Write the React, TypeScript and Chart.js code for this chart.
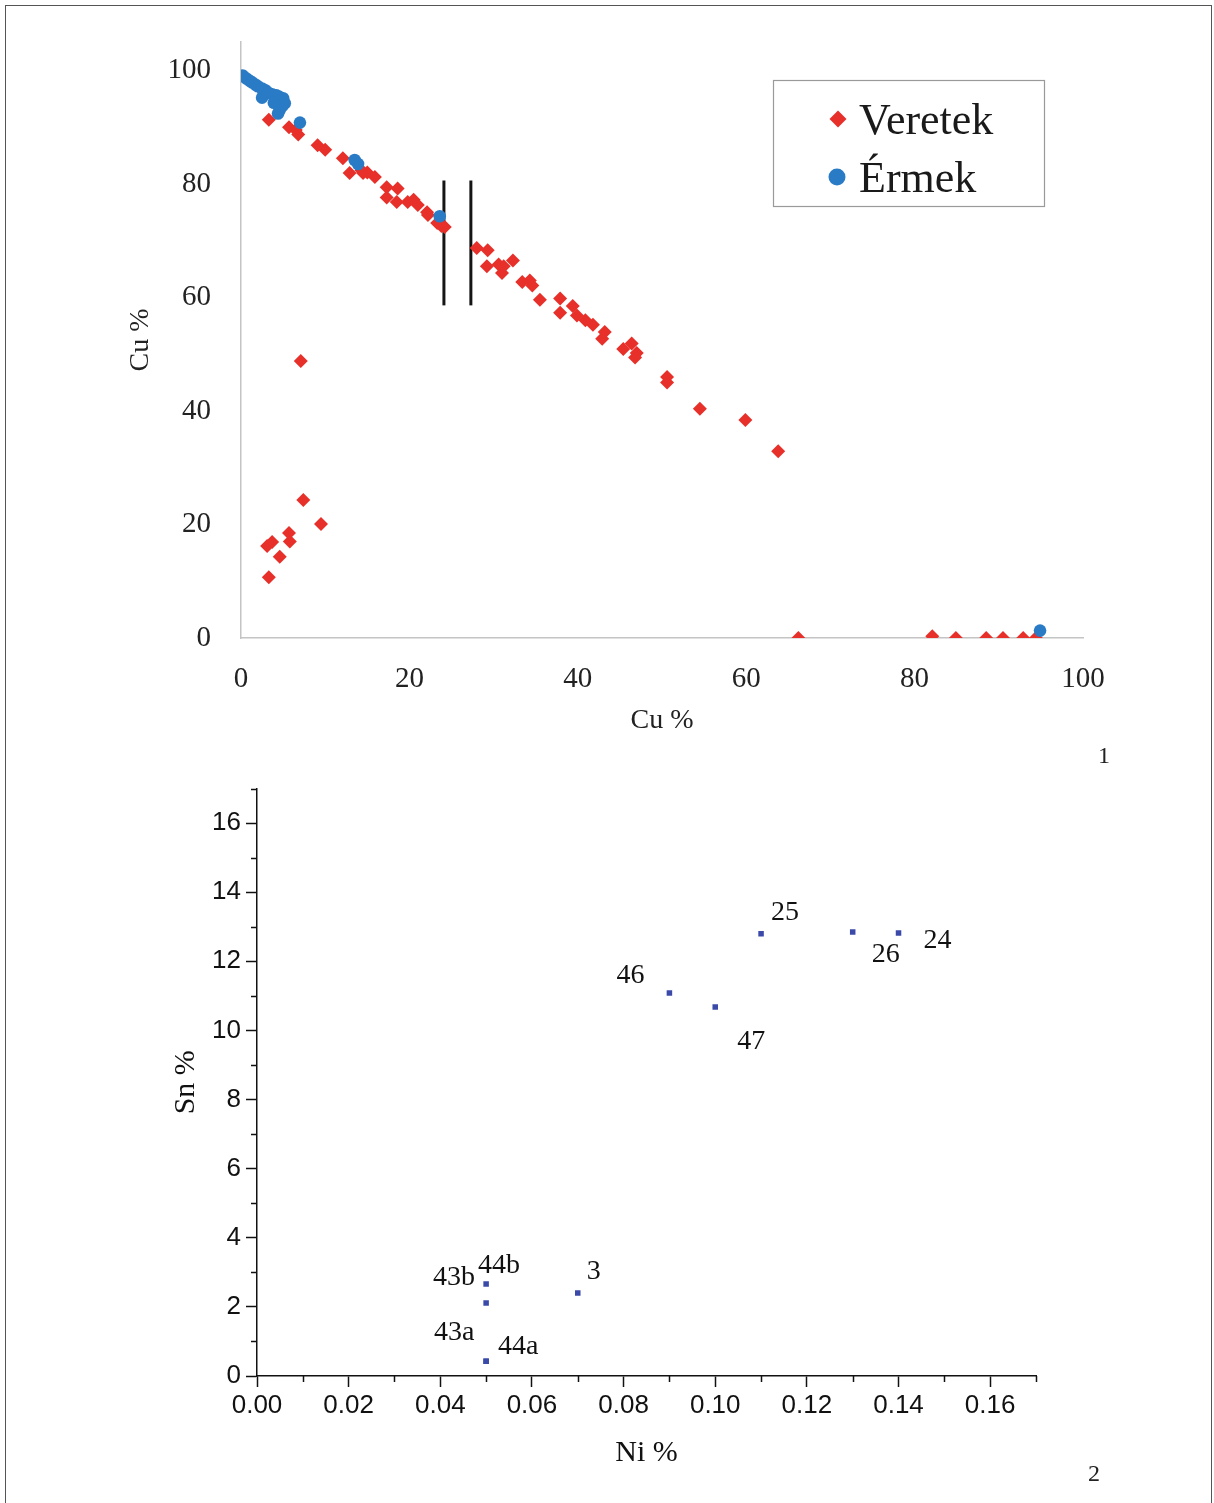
import React, { useEffect, useRef } from 'react';
import { Chart, registerables } from 'chart.js';
Chart.register(...registerables);

// ---------- Data: chart 1 (Cu % vs Cu %) ----------
const veretekX = [3.3, 5.7, 6.5, 6.8, 9.1, 10.0, 12.1, 12.9, 14.3, 14.5, 15.0, 15.9, 17.3, 17.3, 18.6, 18.5, 19.8, 20.5, 21.0, 22.1, 22.2, 23.3, 23.8, 24.2, 28.0, 29.3, 29.2, 30.6, 31.0, 31.2, 32.3, 33.4, 34.3, 34.6, 35.5, 37.9, 37.9, 39.4, 39.9, 40.9, 41.8, 43.2, 42.9, 45.4, 46.4, 47.0, 46.8, 50.6, 50.6, 54.5, 59.9, 63.8, 7.1, 7.4, 9.5, 5.7, 5.8, 3.7, 3.1, 4.6, 3.3, 66.2, 82.1, 84.9, 88.5, 90.5, 92.9, 94.4];
const veretekY = [91.3, 90.0, 89.5, 88.7, 86.8, 86.0, 84.5, 81.9, 82.4, 81.9, 82.0, 81.2, 79.4, 77.6, 79.2, 76.8, 76.8, 77.2, 76.3, 75.0, 74.5, 73.1, 72.6, 72.4, 68.7, 68.3, 65.5, 65.8, 64.3, 65.5, 66.5, 62.7, 63.0, 62.1, 59.6, 59.8, 57.3, 58.5, 56.8, 56.0, 55.2, 53.9, 52.7, 50.9, 51.9, 50.2, 49.4, 46.0, 45.0, 40.4, 38.4, 32.9, 48.8, 24.3, 20.1, 18.5, 17.0, 16.9, 16.2, 14.3, 10.7, 0.0, 0.3, 0.0, 0.0, 0.0, 0.0, 0.0];
const ermekX = [0.2, 0.6, 1.0, 1.3, 1.7, 2.0, 2.5, 2.9, 2.5, 3.2, 3.7, 4.2, 4.5, 5.0, 5.2, 4.9, 4.6, 4.4, 3.9, 7.0, 13.5, 13.9, 23.6, 94.9];
const ermekY = [99.1, 98.6, 98.2, 97.9, 97.5, 97.2, 96.8, 96.5, 95.2, 96.1, 95.8, 95.6, 95.4, 95.1, 94.2, 93.7, 93.0, 92.4, 94.3, 90.8, 84.2, 83.5, 74.3, 1.3];
const dividerX = [24.1, 27.3];
const dividerY = [58.6, 80.6];
const cuTicks = [0, 20, 40, 60, 80, 100];
const legendLabels = ['Veretek', 'Érmek'];

// ---------- Data: chart 2 (Sn % vs Ni %) ----------
const sampleNames = ['25', '26', '24', '46', '47', '44b', '43b', '3', '43a', '44a'];
const niValues = [0.11, 0.13, 0.14, 0.09, 0.10, 0.05, 0.05, 0.07, 0.05, 0.05];
const snValues = [12.8, 12.85, 12.82, 11.08, 10.68, 2.66, 2.11, 2.40, 0.43, 0.43];
const niTicks = [0, 0.02, 0.04, 0.06, 0.08, 0.10, 0.12, 0.14, 0.16];
const snTicks = [0, 2, 4, 6, 8, 10, 12, 14, 16];

// ---------- Layout / style ----------
const LABEL_OFFSETS: [number, number][] = [
  [24, -21], [33, 23], [39, 8], [-39, -17], [36, 35], [13, -18], [-32, -25], [16, -21], [-32, -28], [32, -14],
];
const SERIF = '"Liberation Serif", "Times New Roman", serif';
const SANS = '"Liberation Sans", Arial, sans-serif';
const RED = '#e8302a';
const BLUE = '#2a7bc6';
const NAVY = '#3b4aa9';

const toPts = (xs: number[], ys: number[]) => xs.map((x, i) => ({ x, y: ys[i] }));

const legendPlugin = {
  id: 'customLegend',
  afterDraw(chart: any) {
    const ctx = chart.ctx;
    ctx.save();
    ctx.strokeStyle = '#9a9a9a';
    ctx.lineWidth = 1.2;
    ctx.strokeRect(773.5, 80.5, 271, 126);
    ctx.fillStyle = RED;
    ctx.beginPath();
    const dx = 838, dy = 119, r = 8.5;
    ctx.moveTo(dx, dy - r); ctx.lineTo(dx + r, dy); ctx.lineTo(dx, dy + r); ctx.lineTo(dx - r, dy); ctx.closePath();
    ctx.fill();
    ctx.fillStyle = BLUE;
    ctx.beginPath();
    ctx.arc(837, 177, 8.5, 0, Math.PI * 2);
    ctx.fill();
    ctx.fillStyle = '#1a1a1a';
    ctx.font = `44px ${SERIF}`;
    ctx.textAlign = 'left';
    ctx.textBaseline = 'alphabetic';
    ctx.fillText(legendLabels[0], 859, 134);
    ctx.fillText(legendLabels[1], 859, 192);
    ctx.restore();
  },
};

const pointLabelPlugin = {
  id: 'pointLabels',
  afterDatasetsDraw(chart: any) {
    const ctx = chart.ctx;
    const meta = chart.getDatasetMeta(0);
    ctx.save();
    ctx.font = `28px ${SERIF}`;
    ctx.fillStyle = '#111';
    ctx.textAlign = 'center';
    ctx.textBaseline = 'middle';
    meta.data.forEach((el: any, i: number) => {
      const [ox, oy] = LABEL_OFFSETS[i];
      ctx.fillText(sampleNames[i], el.x + ox, el.y + oy);
    });
    ctx.restore();
  },
};

const minorTickPlugin = {
  id: 'minorTicks',
  afterDraw(chart: any) {
    const ctx = chart.ctx;
    const xs = chart.scales.x;
    const ys = chart.scales.y;
    const area = chart.chartArea;
    ctx.save();
    ctx.strokeStyle = '#111';
    ctx.lineWidth = 1.5;
    ctx.beginPath();
    for (let k = 1; k <= 17; k += 2) {
      const px = Math.round(xs.getPixelForValue(k / 100)) + 0.5;
      ctx.moveTo(px, area.bottom);
      ctx.lineTo(px, area.bottom + 6);
      const py = Math.round(ys.getPixelForValue(k)) + 0.5;
      ctx.moveTo(area.left, py);
      ctx.lineTo(area.left - 6, py);
    }
    ctx.stroke();
    ctx.restore();
  },
};

export default function App() {
  const topRef = useRef<HTMLCanvasElement>(null);
  const botRef = useRef<HTMLCanvasElement>(null);

  useEffect(() => {
    const c1 = new Chart(topRef.current as HTMLCanvasElement, {
      type: 'scatter',
      data: {
        datasets: [
          { label: legendLabels[1], data: toPts(ermekX, ermekY), pointStyle: 'circle', pointRadius: 6.3, backgroundColor: BLUE, borderWidth: 0, order: 0 } as any,
          { label: legendLabels[0], data: toPts(veretekX, veretekY), pointStyle: 'rectRot', pointRadius: 7, backgroundColor: RED, borderWidth: 0, order: 1 } as any,
          { label: 'a', data: toPts([dividerX[0], dividerX[0]], dividerY), showLine: true, borderColor: '#151515', borderWidth: 3, pointRadius: 0, order: 2 } as any,
          { label: 'b', data: toPts([dividerX[1], dividerX[1]], dividerY), showLine: true, borderColor: '#151515', borderWidth: 3, pointRadius: 0, order: 2 } as any,
        ],
      },
      options: {
        responsive: false,
        animation: false,
        devicePixelRatio: 1,
        layout: { padding: { top: 42, right: 131, left: 0, bottom: 0 } },
        plugins: { legend: { display: false }, tooltip: { enabled: false } },
        scales: {
          x: {
            type: 'linear', min: 0, max: 100,
            afterBuildTicks: (s: any) => { s.ticks = cuTicks.map((v) => ({ value: v })); },
            ticks: { font: { family: SERIF, size: 29 }, color: '#222', padding: 16 },
            grid: { display: false },
            border: { color: '#c4c4c4', width: 1.5 },
            title: { display: true, text: 'Cu %', font: { family: SERIF, size: 28 }, color: '#222', padding: { top: 0, bottom: 33 } },
            afterFit: (s: any) => { s.height = 132; s.paddingLeft = 0; s.paddingRight = 0; },
          } as any,
          y: {
            type: 'linear', min: 0, max: 105,
            afterBuildTicks: (s: any) => { s.ticks = cuTicks.map((v) => ({ value: v })); },
            ticks: { font: { family: SERIF, size: 29 }, color: '#222', padding: 22 },
            grid: { display: false },
            border: { color: '#c4c4c4', width: 1.5 },
            title: { display: true, text: 'Cu %', font: { family: SERIF, size: 28 }, color: '#222', padding: { top: 124, bottom: 0 } },
            afterFit: (s: any) => { s.width = 241; s.paddingTop = 0; s.paddingBottom = 0; },
          } as any,
        },
      },
      plugins: [legendPlugin],
    });

    const c2 = new Chart(botRef.current as HTMLCanvasElement, {
      type: 'scatter',
      data: {
        datasets: [
          { label: 'Sn', data: toPts(niValues, snValues), pointStyle: 'rect', pointRadius: 3.9, backgroundColor: NAVY, borderWidth: 0 } as any,
        ],
      },
      options: {
        responsive: false,
        animation: false,
        devicePixelRatio: 1,
        layout: { padding: { top: 18.5, right: 178, left: 0, bottom: 0 } },
        plugins: { legend: { display: false }, tooltip: { enabled: false } },
        scales: {
          x: {
            type: 'linear', min: 0, max: 0.17,
            afterBuildTicks: (s: any) => { s.ticks = niTicks.map((v) => ({ value: v })); },
            ticks: { font: { family: SANS, size: 26 }, color: '#111', padding: 3, callback: (v: any) => Number(v).toFixed(2) },
            grid: { display: true, drawOnChartArea: false, drawTicks: true, tickLength: 11, tickColor: '#111', tickWidth: 1.5 },
            border: { color: '#111', width: 1.5 },
            title: { display: true, text: 'Ni %', font: { family: SERIF, size: 30 }, color: '#111', padding: { top: 0, bottom: 32 } },
            afterFit: (s: any) => { s.height = 127; s.paddingLeft = 0; s.paddingRight = 0; },
          } as any,
          y: {
            type: 'linear', min: 0, max: 17,
            afterBuildTicks: (s: any) => { s.ticks = snTicks.map((v) => ({ value: v })); },
            ticks: { font: { family: SANS, size: 26 }, color: '#111', padding: 5 },
            grid: { display: true, drawOnChartArea: false, drawTicks: true, tickLength: 11, tickColor: '#111', tickWidth: 1.5 },
            border: { color: '#111', width: 1.5 },
            title: { display: true, text: 'Sn %', font: { family: SERIF, size: 30 }, color: '#111', padding: { top: 168, bottom: 0 } },
            afterFit: (s: any) => { s.width = 257; s.paddingTop = 0; s.paddingBottom = 0; },
          } as any,
        },
      },
      plugins: [pointLabelPlugin, minorTickPlugin],
    });

    return () => { c1.destroy(); c2.destroy(); };
  }, []);

  return (
    <div style={{ position: 'absolute', left: 0, top: 0, width: 1214, height: 1503, background: '#fff', overflow: 'hidden' }}>
      <div style={{ position: 'absolute', left: 5, top: 5, width: 1205, height: 1520, borderTop: '1.5px solid #555', borderLeft: '1.5px solid #555', borderRight: '1.5px solid #555' }} />
      <canvas ref={topRef} width={1214} height={770} style={{ position: 'absolute', left: 0, top: 0 }} />
      <canvas ref={botRef} width={1214} height={733} style={{ position: 'absolute', left: 0, top: 770 }} />
      <div style={{ position: 'absolute', left: 1098, top: 740, fontFamily: SERIF, fontSize: 24, color: '#222', lineHeight: '30px' }}>1</div>
      <div style={{ position: 'absolute', left: 1088, top: 1458, fontFamily: SERIF, fontSize: 24, color: '#222', lineHeight: '30px' }}>2</div>
    </div>
  );
}
